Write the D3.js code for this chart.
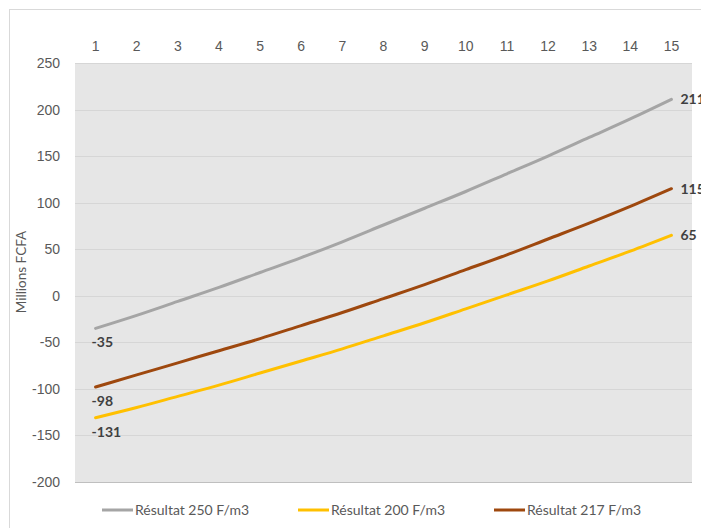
<!DOCTYPE html>
<html>
<head>
<meta charset="utf-8">
<script src="https://cdn.jsdelivr.net/npm/d3@7"></script>
<style>
  body { margin: 0; background: #fff; }
  svg { font-family: Lato, "Open Sans", sans-serif; }
</style>
</head>
<body>
<div id="graf"></div>
<script>
// Donnees
const annees = d3.range(1, 16)
const yTicks = [250, 200, 150, 100, 50, 0, -50, -100, -150, -200]
const series = ["Résultat 250 F/m3", "Résultat 200 F/m3", "Résultat 217 F/m3"]
const res250 = [-35, -21, -6, 9, 25, 41, 58, 76, 94, 112, 131, 150, 170, 190, 211]
const res200 = [-131, -120, -108, -96, -83, -70, -57, -43, -29, -14, 1, 16, 32, 48, 65]
const res217 = [-98, -85, -72, -59, -46, -32, -18, -3, 12, 28, 44, 61, 78, 96, 115]
const couleurs = ["#A5A5A5", "#FFC000", "#9E480E"]

const valeurs = [res250, res200, res217]

// Dimensions
const anchoTotal = 701
const altoTotal = 528
const margins = { top: 63, right: 9, bottom: 46, left: 75 }
const ancho = anchoTotal - margins.left - margins.right
const alto = altoTotal - margins.top - margins.bottom

const svg = d3.select("#graf")
  .append("svg")
  .attr("width", anchoTotal)
  .attr("height", altoTotal)

// Cadre
svg.append("rect")
  .attr("x", 9.5).attr("y", 9.5)
  .attr("width", 720).attr("height", 540)
  .attr("fill", "none")
  .attr("stroke", "#D9D9D9")

const g = svg.append("g")
  .attr("transform", `translate(${margins.left}, ${margins.top})`)

// Escaladores
const x = d3.scaleBand().domain(annees).range([0, ancho])
const y = d3.scaleLinear().domain([-200, 250]).range([alto, 0])

g.append("rect")
  .attr("width", ancho)
  .attr("height", alto)
  .attr("fill", "#E6E6E6")

// Grille
g.selectAll(".grid")
  .data(yTicks)
  .enter()
  .append("line")
  .attr("x1", 0).attr("x2", ancho)
  .attr("y1", (d) => Math.round(y(d)) + 0.5)
  .attr("y2", (d) => Math.round(y(d)) + 0.5)
  .attr("stroke", (d) => (d === -200 ? "#BFBFBF" : "#D6D6D6"))
  .attr("stroke-width", 1)

// Axes
const xAxis = g.append("g")
  .call(d3.axisTop(x).tickSize(0).tickPadding(12))
xAxis.select(".domain").remove()
xAxis.selectAll("text").attr("fill", "#595959").style("font-size", "14px")

const yAxis = g.append("g")
  .call(d3.axisLeft(y).tickValues(yTicks).tickSize(0).tickPadding(15).tickFormat((d) => String(d)))
yAxis.select(".domain").remove()
yAxis.selectAll("text").attr("fill", "#595959").style("font-size", "14px")

svg.append("text")
  .attr("transform", `translate(26, 272) rotate(-90)`)
  .attr("text-anchor", "middle")
  .attr("fill", "#595959")
  .style("font-size", "13.5px")
  .text("Millions FCFA")

// Lignes
const line = d3.line()
  .x((d, i) => x(annees[i]) + x.bandwidth() / 2)
  .y((d) => y(d))
  .curve(d3.curveMonotoneX)

g.selectAll(".serie")
  .data(valeurs)
  .enter()
  .append("path")
  .attr("d", (d) => line(d))
  .attr("fill", "none")
  .attr("stroke", (d, i) => couleurs[i])
  .attr("stroke-width", 3)
  .attr("stroke-linecap", "round")

// Etiquettes
const xFirst = x(annees[0]) + x.bandwidth() / 2
const xLast = x(annees[14]) + x.bandwidth() / 2
valeurs.forEach((v) => {
  g.append("text")
    .attr("x", xFirst - 4)
    .attr("y", y(v[0]) + 19)
    .attr("fill", "#404040")
    .style("font-size", "14px")
    .style("font-weight", "bold")
    .text(String(v[0]))
  g.append("text")
    .attr("x", xLast + 9)
    .attr("y", y(v[14]) + 5)
    .attr("fill", "#404040")
    .style("font-size", "14px")
    .style("font-weight", "bold")
    .text(String(v[14]))
})

// Legende
const legX = [102, 298, 494]
const leg = svg.selectAll(".leg")
  .data(series)
  .enter()
  .append("g")
  .attr("transform", (d, i) => `translate(${legX[i]}, 510)`)
leg.append("line")
  .attr("x1", 0).attr("x2", 31)
  .attr("stroke", (d, i) => couleurs[i])
  .attr("stroke-width", 3)
leg.append("text")
  .attr("x", 33)
  .attr("y", 5)
  .attr("fill", "#595959")
  .style("font-size", "14px")
  .text((d) => d)
</script>
</body>
</html>
